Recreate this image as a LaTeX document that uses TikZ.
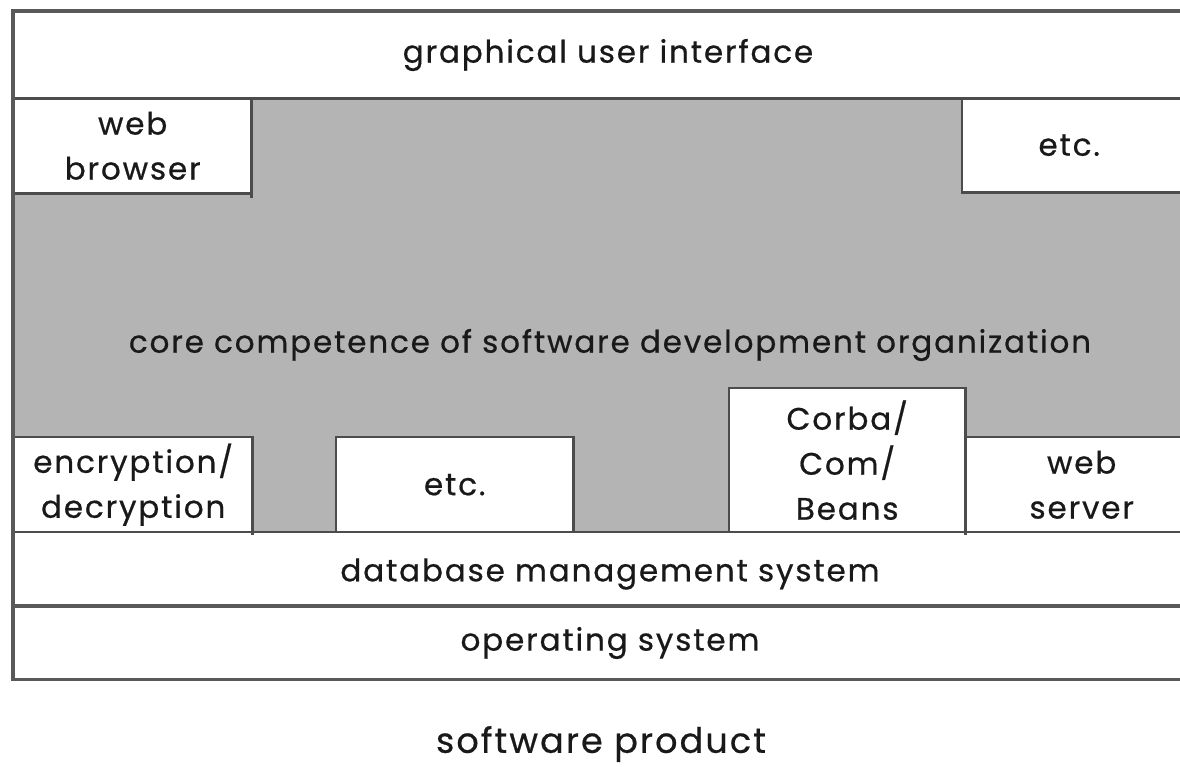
\documentclass[tikz,border=0pt]{standalone}
\usepackage{fontspec}
\setmainfont{Poppins}[LetterSpace=6, FakeBold=0.6]
\usetikzlibrary{calc}
\begin{document}
\begin{tikzpicture}[x=1pt,y=-1pt,
  label/.style={font=\fontsize{31}{45}\selectfont, text=black!90, align=center, inner sep=0pt},
  cell/.style={fill=white, draw=none, inner sep=0pt, anchor=north west},
  edge/.style={draw=black!70, line width=2.2pt},
  frameline/.style={draw=black!65, line width=3.5pt}]
  \definecolor{core}{RGB}{180,180,180}
  \useasboundingbox (0,0) rectangle (1180,766);
  \clip (0,0) rectangle (1180,766);

  % outer frame and core area
  \node[cell, minimum width=1190pt, minimum height=668pt] (frame) at (13,11) {};
  \fill[core] (14,98) rectangle (1190,532);

  % upper layer
  \node[cell, minimum width=1177pt, minimum height=87pt] (gui) at (14,11) {};
  \node[label] (guitext) at (608,55) {graphical user interface};
  \node[cell, minimum width=237pt, minimum height=95pt] (web) at (14,98) {};
  \node[label] at (web.center) {web\\browser};
  \node[cell, minimum width=230pt, minimum height=94pt] (etcA) at (962,98) {};
  \node[label] at ($(etcA.center)+(-8,0)$) {etc.};

  % core competence
  \node[label] (coretext) at (610,345) {core competence of software development organization};

  % lower components
  \node[cell, minimum width=238pt, minimum height=95pt] (enc) at (14,437) {};
  \node[label] at (enc.center) {encryption/\\decryption};
  \node[cell, minimum width=237pt, minimum height=95pt] (etcB) at (336,437) {};
  \node[label] at (etcB.center) {etc.};
  \node[cell, minimum width=236pt, minimum height=144pt] (corba) at (729,388) {};
  \node[label] at ($(corba.center)+(0,0)$) {Corba/\\Com/\\Beans};
  \node[cell, minimum width=225pt, minimum height=95pt] (websrv) at (965,437) {};
  \node[label] at ($(websrv.center)+(4,0)$) {web\\server};

  % platform layers
  \node[cell, minimum width=1177pt, minimum height=74pt] (dbms) at (14,532) {};
  \node[label] at (610,574) {database management system};
  \node[cell, minimum width=1177pt, minimum height=72pt] (os) at (14,606) {};
  \node[label] at (610,643) {operating system};

  % borders
  \draw[edge] (gui.south west) -- (gui.south east);
  \draw[edge] (web.north east) -- ($(web.south east)+(0,5)$);
  \draw[edge] (web.south west) -- (web.south east);
  \draw[edge] (etcA.north west) -- (etcA.south west) -- (etcA.south east);
  \draw[edge] (enc.north west) -- (enc.north east) -- ($(enc.south east)+(0,3)$);
  \draw[edge] (etcB.south west) -- (etcB.north west) -- (etcB.north east) -- (etcB.south east);
  \draw[edge] (corba.south west) -- (corba.north west) -- (corba.north east) -- ($(corba.south east)+(0,3)$);
  \draw[edge] (websrv.north west) -- (websrv.north east);
  \draw[edge] (dbms.north west) -- (dbms.north east);
  \draw[frameline] (os.north west) -- (os.north east);
  \draw[frameline] (frame.north east) -- (frame.north west) -- (frame.south west) -- (frame.south east);

  % caption
  \node[font=\fontsize{35}{40}\selectfont, text=black!90] (product) at (601,744) {software product};
\end{tikzpicture}
\end{document}
